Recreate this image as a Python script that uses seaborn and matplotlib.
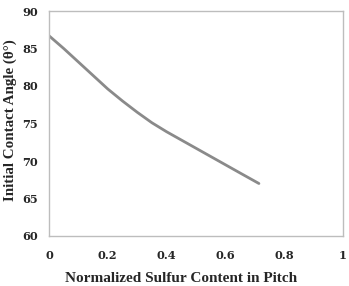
import numpy as np
import pandas as pd
import matplotlib
matplotlib.use("Agg")
import matplotlib.pyplot as plt
import seaborn as sns

# values
sulfur = [0.0, 0.05, 0.10, 0.15, 0.20, 0.25, 0.30, 0.35, 0.40, 0.45, 0.50, 0.55, 0.60, 0.65, 0.714]
angle = [86.7, 85.0, 83.2, 81.4, 79.6, 78.0, 76.5, 75.1, 73.9, 72.8, 71.7, 70.6, 69.5, 68.4, 67.0]
xticks = [0, 0.2, 0.4, 0.6, 0.8, 1]
xticklabels = ["0", "0.2", "0.4", "0.6", "0.8", "1"]
yticks = [60, 65, 70, 75, 80, 85, 90]

df = pd.DataFrame({"sulfur": sulfur, "angle": angle})

sns.set_style("white")
plt.rcParams["font.family"] = ["Liberation Serif", "DejaVu Serif"]

fig = plt.figure(figsize=(3.49, 2.86), dpi=100)
ax = fig.add_axes([49/349, 50/286, 294/349, 225/286])
sns.lineplot(data=df, x="sulfur", y="angle", color="#8a8a8a", lw=2.0, ax=ax)

ax.set_xlim(0, 1)
ax.set_ylim(60, 90)
ax.set_xticks(xticks)
ax.set_xticklabels(xticklabels)
ax.set_yticks(yticks)
for s in ax.spines.values():
    s.set_color("#bdbdbd")
    s.set_linewidth(1.0)
ax.tick_params(axis="x", length=0, pad=10)
ax.tick_params(axis="y", length=0, pad=8)
for lab in ax.get_xticklabels() + ax.get_yticklabels():
    lab.set_fontweight("bold")
    lab.set_family("DejaVu Serif")
    lab.set_fontsize(8.2)

ax.set_xlabel("Normalized Sulfur Content in Pitch", fontsize=11, fontweight="bold")
ax.xaxis.set_label_coords(0.45, -0.19)
ax.xaxis.label.set_va("center")
ax.set_ylabel("Initial Contact Angle (θ°)", fontsize=10.8, fontweight="bold")
ax.yaxis.set_label_coords(-0.133, 0.515)
ax.yaxis.label.set_va("center")

fig.savefig("out.png", dpi=100)
